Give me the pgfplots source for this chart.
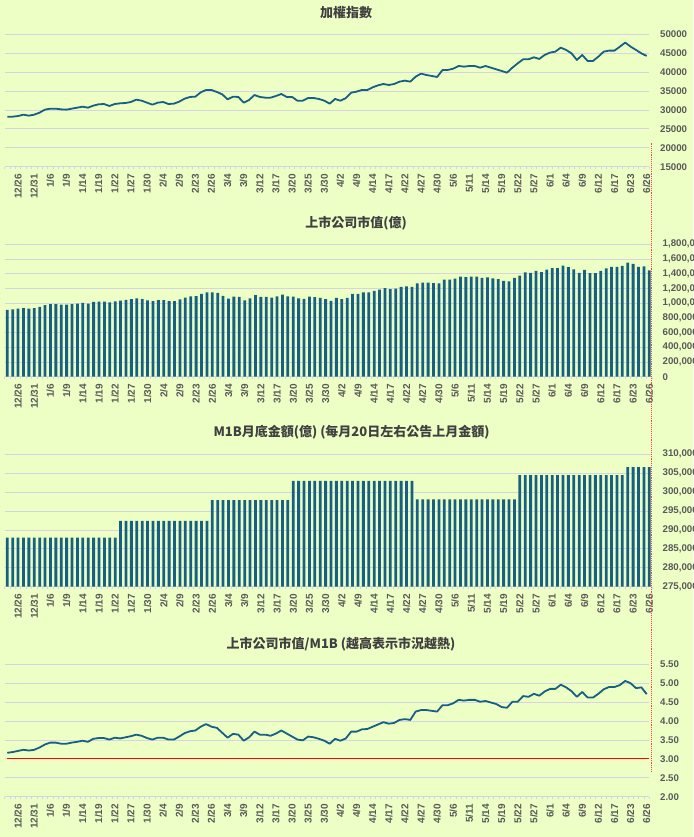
\documentclass[border=0pt]{standalone}
\usepackage{pgfplots}
\pgfplotsset{compat=1.18}
\usepackage{pgfplotstable}
\usepackage{fontspec}
\setmainfont{Liberation Sans}
\newfontfamily\cjk{Noto Sans CJK TC}
\definecolor{bg}{RGB}{238,255,198}
\definecolor{ser}{RGB}{22,96,131}
\definecolor{grd}{RGB}{212,212,226}
\definecolor{lbl}{RGB}{89,89,89}
\definecolor{ttl}{RGB}{64,64,64}
\definecolor{rdot}{RGB}{235,70,70}

\pgfplotstableread{
i taiex cap m1b ratio
0 28220 910000 288000 3.16
1 28220 916000 288000 3.18
2 28400 924000 288000 3.21
3 28750 933000 288000 3.24
4 28490 927000 288000 3.22
5 28750 933000 288000 3.24
6 29280 950000 288000 3.30
7 30080 973000 288000 3.38
8 30340 988000 288000 3.43
9 30340 988000 288000 3.43
10 30160 979000 288000 3.40
11 30080 979000 288000 3.40
12 30340 988000 288000 3.43
13 30600 994000 288000 3.45
14 30870 1002000 288000 3.48
15 30600 994000 288000 3.45
16 31130 1017000 288000 3.53
17 31490 1022000 288000 3.55
18 31570 1022000 288000 3.55
19 31050 1011000 288000 3.51
20 31570 1025000 288000 3.56
21 31750 1035000 292400 3.54
22 31840 1044000 292400 3.57
23 32100 1053000 292400 3.60
24 32720 1064000 292400 3.64
25 32450 1056000 292400 3.61
26 31920 1038000 292400 3.55
27 31400 1026000 292400 3.51
28 31920 1041000 292400 3.56
29 32100 1041000 292400 3.56
30 31570 1026000 292400 3.51
31 31660 1026000 292400 3.51
32 32190 1050000 292400 3.59
33 32980 1076000 292400 3.68
34 33430 1091000 292400 3.73
35 33510 1097000 292400 3.75
36 34660 1126000 292400 3.85
37 35280 1146000 292400 3.92
38 35280 1147000 297900 3.85
39 34750 1138000 297900 3.82
40 34130 1099000 297900 3.69
41 32810 1061000 297900 3.56
42 33510 1090000 297900 3.66
43 33430 1084000 297900 3.64
44 31930 1037000 297900 3.48
45 32630 1064000 297900 3.57
46 33950 1108000 297900 3.72
47 33430 1084000 297900 3.64
48 33250 1084000 297900 3.64
49 33250 1075000 297900 3.61
50 33690 1093000 297900 3.67
51 34220 1117000 297900 3.75
52 33430 1093000 297900 3.67
53 33430 1088000 303000 3.59
54 32450 1064000 303000 3.51
55 32450 1057000 303000 3.49
56 33160 1088000 303000 3.59
57 33160 1082000 303000 3.57
58 32900 1070000 303000 3.53
59 32450 1054000 303000 3.48
60 31660 1030000 303000 3.40
61 32900 1070000 303000 3.53
62 32450 1054000 303000 3.48
63 33120 1073000 303000 3.54
64 34570 1127000 303000 3.72
65 34840 1127000 303000 3.72
66 35280 1145000 303000 3.78
67 35280 1148000 303000 3.79
68 35980 1167000 303000 3.85
69 36510 1185000 303000 3.91
70 36860 1203000 303000 3.97
71 36600 1191000 303000 3.93
72 36860 1197000 303000 3.95
73 37480 1221000 303000 4.03
74 37750 1227000 303000 4.05
75 37480 1221000 303000 4.03
76 38800 1267000 298100 4.25
77 39600 1279000 298100 4.29
78 39240 1279000 298100 4.29
79 38980 1273000 298100 4.27
80 38720 1267000 298100 4.25
81 40570 1318000 298100 4.42
82 40570 1318000 298100 4.42
83 40920 1333000 298100 4.47
84 41620 1359000 298100 4.56
85 41450 1353000 298100 4.54
86 41620 1359000 298100 4.56
87 41620 1359000 298100 4.56
88 41180 1344000 298100 4.51
89 41620 1350000 298100 4.53
90 41180 1338000 298100 4.49
91 40740 1327000 298100 4.45
92 40300 1303000 298100 4.37
93 39860 1297000 298100 4.35
94 41180 1344000 298100 4.51
95 42330 1373000 304500 4.51
96 43390 1419000 304500 4.66
97 43390 1413000 304500 4.64
98 43920 1437000 304500 4.72
99 43480 1422000 304500 4.67
100 44530 1456000 304500 4.78
101 45150 1477000 304500 4.85
102 45420 1477000 304500 4.85
103 46470 1510000 304500 4.96
104 45860 1489000 304500 4.89
105 44970 1459000 304500 4.79
106 43210 1413000 304500 4.64
107 44530 1452000 304500 4.77
108 42950 1407000 304500 4.62
109 42950 1407000 304500 4.62
110 44090 1437000 304500 4.72
111 45420 1474000 304500 4.84
112 45680 1492000 304500 4.90
113 45680 1492000 304500 4.90
114 46740 1507000 304500 4.95
115 47800 1551000 306600 5.06
116 46740 1533000 306600 5.00
117 45860 1493000 306600 4.87
118 44970 1499000 306600 4.89
119 44270 1444000 306600 4.71
}\data

\pgfplotsset{
  panel/.style={
    scale only axis, anchor=south west,
    xmin=-0.5, xmax=119.5,
    separate axis lines,
    axis x line*=bottom, axis y line*=right,
    y axis line style={draw=none},
    x axis line style={draw=grd, line width=0.8pt},
    ymajorgrids, grid style={draw=grd, line width=0.8pt},
    xtick={2,5,...,119},
    xticklabels={12/26,12/31,1/6,1/9,1/14,1/19,1/22,1/27,1/30,2/4,2/9,2/23,2/26,3/4,3/9,3/12,3/17,3/20,3/25,3/30,4/2,4/9,4/14,4/17,4/22,4/27,4/30,5/6,5/11,5/14,5/19,5/22,5/27,6/1,6/4,6/9,6/12,6/17,6/23,6/26},
    minor xtick={-0.5,0.5,...,119.5},
    major tick length=0pt, minor tick length=2.5pt,
    tick align=outside,
    minor tick style={draw=grd, line width=0.6pt},
    ytick style={draw=none},
    xticklabel style={rotate=90, anchor=east, font=\fontsize{10}{12}\selectfont\bfseries, text=lbl, inner sep=0pt},
    xticklabel shift=7pt,
    yticklabel style={anchor=west, font=\fontsize{9.7}{11}\selectfont\bfseries, text=lbl, inner sep=0pt},
    yticklabel shift=10.5pt,
    scaled y ticks=false,
    /pgf/number format/assume math mode=true,
  },
}

\begin{document}
\begin{tikzpicture}
\fill[bg] (0,0) rectangle (693pt,837pt);
\useasboundingbox (0,0) rectangle (693pt,837pt);

% Panel 1
\begin{axis}[panel, at={(4.6pt,670.3pt)}, width=644.8pt, height=132.4pt,
  ymin=15000, ymax=50000, ytick={15000,20000,25000,30000,35000,40000,45000,50000},
  /pgf/number format/fixed, /pgf/number format/1000 sep={}]
\addplot[ser, line width=1.8pt, line join=round, mark=none] table[x=i,y=taiex]{\data};
\end{axis}

% Panel 2
\begin{axis}[panel, at={(4.6pt,460.3pt)}, width=647.4pt, height=132.4pt,
  ymin=0, ymax=1800000, ytick={0,200000,400000,600000,800000,1000000,1200000,1400000,1600000,1800000},
  /pgf/number format/fixed, /pgf/number format/1000 sep={,}, ybar, bar width=2.8pt]
\addplot[fill=ser, draw=none] table[x=i,y=cap]{\data};
\end{axis}

% Panel 3
\begin{axis}[panel, at={(4.6pt,250.3pt)}, width=647.4pt, height=132.4pt,
  ymin=275000, ymax=310000, ytick={275000,280000,285000,290000,295000,300000,305000,310000},
  /pgf/number format/fixed, /pgf/number format/1000 sep={,}, ybar, bar width=2.8pt]
\addplot[fill=ser, draw=none] table[x=i,y=m1b]{\data};
\end{axis}

% Panel 4
\begin{axis}[panel, at={(4.6pt,40.3pt)}, width=644.8pt, height=132.4pt,
  ymin=2, ymax=5.5, ytick={2,2.5,3,3.5,4,4.5,5,5.5},
  /pgf/number format/fixed, /pgf/number format/fixed zerofill, /pgf/number format/precision=2]
\addplot[red, line width=1.2pt, mark=none] coordinates {(0,3) (119.5,3)};
\addplot[ser, line width=1.8pt, line join=round, mark=none] table[x=i,y=ratio]{\data};
\end{axis}

\draw[rdot, densely dotted, line width=0.9pt] (651pt,65pt) -- (651pt,694pt);

\node[font=\cjk\bfseries\fontsize{13}{15}\selectfont, text=ttl] at (346pt,824pt) {加權指數};
\node[font=\cjk\bfseries\fontsize{13}{15}\selectfont, text=ttl] at (356pt,614pt) {上市公司市值(億)};
\node[font=\cjk\bfseries\fontsize{13}{15}\selectfont, text=ttl] at (351.5pt,404.5pt) {M1B月底金額(億) (每月20日左右公告上月金額)};
\node[font=\cjk\bfseries\fontsize{13}{15}\selectfont, text=ttl] at (341pt,193pt) {上市公司市值/M1B (越高表示市況越熱)};
\end{tikzpicture}
\end{document}
